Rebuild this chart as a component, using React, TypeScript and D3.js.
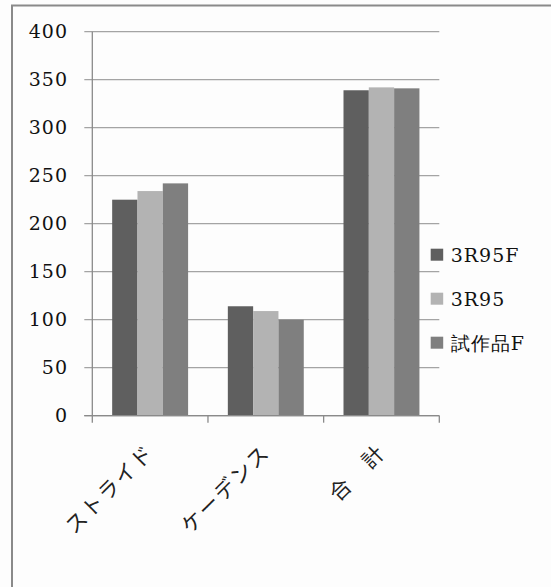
import React, { useEffect, useRef } from "react";
import * as d3 from "d3";

// Categories, series and tick values
const categories = ["ストライド", "ケーデンス", "合\u3000計"];
const seriesNames = ["3R95F", "3R95", "試作品F"];
const seriesColors = ["#5f5f5f", "#b3b3b3", "#7f7f7f"];
const values3R95F = [225, 114, 339];
const values3R95 = [234, 109, 342];
const valuesPrototypeF = [242, 100, 341];
const yTicks = [0, 50, 100, 150, 200, 250, 300, 350, 400];

const W = 551;
const H = 587;
const plot = { left: 92.3, right: 439.3, top: 31.7, bottom: 415.7 };

export default function App() {
  const ref = useRef<SVGSVGElement | null>(null);

  useEffect(() => {
    const svg = d3.select(ref.current);
    svg.selectAll("*").remove();

    const latin = "'DejaVu Serif', 'Liberation Serif', serif";
    const jp = "'Noto Sans CJK JP', 'DejaVu Serif', serif";

    // outer chart frame (runs past the right and bottom edges)
    svg
      .append("rect")
      .attr("x", 12)
      .attr("y", 5.5)
      .attr("width", 600)
      .attr("height", 700)
      .attr("fill", "#fdfdfd")
      .attr("stroke", "#8a8a8a")
      .attr("stroke-width", 2);

    const x0 = d3
      .scaleBand<string>()
      .domain(categories)
      .range([plot.left, plot.right])
      .paddingInner(0)
      .paddingOuter(0);
    const x1 = d3
      .scaleBand<string>()
      .domain(seriesNames)
      .range([0, x0.bandwidth()])
      .paddingInner(0)
      .paddingOuter(0.785);
    const y = d3.scaleLinear().domain([0, 400]).range([plot.bottom, plot.top]);

    const series = [values3R95F, values3R95, valuesPrototypeF];

    // horizontal gridlines with tick stubs
    svg
      .append("g")
      .selectAll("line")
      .data(yTicks)
      .join("line")
      .attr("x1", plot.left - 8)
      .attr("x2", plot.right)
      .attr("y1", (d) => y(d))
      .attr("y2", (d) => y(d))
      .attr("stroke", (d) => (d === 0 ? "#8a8a8a" : "#a4a4a4"))
      .attr("stroke-width", 1.3);

    // y tick labels
    svg
      .append("g")
      .selectAll("text")
      .data(yTicks)
      .join("text")
      .attr("x", 68)
      .attr("y", (d) => y(d))
      .attr("dy", "0.35em")
      .attr("text-anchor", "end")
      .attr("font-family", latin)
      .attr("font-size", 19)
      .attr("letter-spacing", 1)
      .attr("fill", "#111")
      .text((d) => String(d));

    // bars
    const groups = svg
      .append("g")
      .selectAll("g")
      .data(categories)
      .join("g")
      .attr("transform", (c) => `translate(${x0(c)},0)`);
    groups
      .selectAll("rect")
      .data((c, i) => seriesNames.map((s, k) => ({ s, k, v: series[k][i] })))
      .join("rect")
      .attr("x", (d) => x1(d.s)!)
      .attr("width", x1.bandwidth())
      .attr("y", (d) => y(d.v))
      .attr("height", (d) => plot.bottom - y(d.v))
      .attr("fill", (d) => seriesColors[d.k]);

    // axis lines
    svg
      .append("line")
      .attr("x1", plot.left)
      .attr("x2", plot.left)
      .attr("y1", plot.top)
      .attr("y2", plot.bottom + 7)
      .attr("stroke", "#8a8a8a")
      .attr("stroke-width", 1.3);
    svg
      .append("line")
      .attr("x1", plot.left - 8)
      .attr("x2", plot.right)
      .attr("y1", plot.bottom)
      .attr("y2", plot.bottom)
      .attr("stroke", "#8a8a8a")
      .attr("stroke-width", 1.3);
    const boundaries = categories.map((c) => x0(c)!).concat([plot.right]);
    svg
      .append("g")
      .selectAll("line")
      .data(boundaries.slice(1))
      .join("line")
      .attr("x1", (d) => d)
      .attr("x2", (d) => d)
      .attr("y1", plot.bottom)
      .attr("y2", plot.bottom + 7)
      .attr("stroke", "#8a8a8a")
      .attr("stroke-width", 1.3);

    // rotated category labels
    svg
      .append("g")
      .selectAll("text")
      .data(categories)
      .join("text")
      .attr(
        "transform",
        (c) => `translate(${x0(c)! + x0.bandwidth() / 2 + 5.5},${plot.bottom + 38}) rotate(-45)`
      )
      .attr("text-anchor", "end")
      .attr("font-family", jp)
      .attr("font-size", 21)
      .attr("letter-spacing", 2)
      .attr("fill", "#222")
      .text((c) => c);

    // legend
    const legend = svg
      .append("g")
      .selectAll("g")
      .data(seriesNames)
      .join("g")
      .attr("transform", (_, i) => `translate(430.7,${248.7 + i * 44})`);
    legend
      .append("rect")
      .attr("width", 12.5)
      .attr("height", 12)
      .attr("fill", (_, i) => seriesColors[i]);
    legend
      .append("text")
      .attr("x", 20)
      .attr("y", 6)
      .attr("dy", "0.36em")
      .attr("font-family", latin)
      .attr("font-size", 19)
      .attr("letter-spacing", 1)
      .attr("fill", "#111")
      .text((d) => d);
  }, []);

  return (
    <div style={{ position: "absolute", left: 0, top: 0 }}>
      <svg ref={ref} width={W} height={H} style={{ display: "block", background: "#fdfdfd" }} />
    </div>
  );
}
